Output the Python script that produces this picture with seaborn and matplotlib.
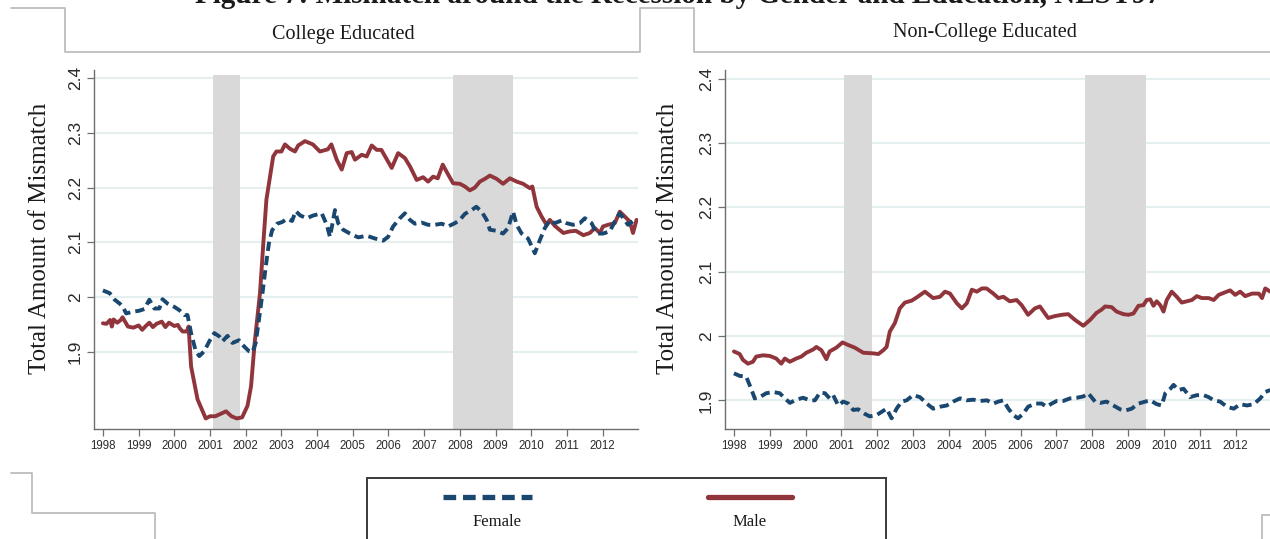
import numpy as np
import pandas as pd
import matplotlib
matplotlib.use("Agg")
import matplotlib.pyplot as plt
from matplotlib.lines import Line2D
from matplotlib.patches import Rectangle
import seaborn as sns

# ---------------- data ----------------
panel_titles = ["College Educated", "Non-College Educated"]
series_names = ["Female", "Male"]
year_ticks = list(range(1998, 2013))
ytick_vals = [1.9, 2.0, 2.1, 2.2, 2.3, 2.4]
ytick_labels = ["1.9", "2", "2.1", "2.2", "2.3", "2.4"]
recessions = [(2001.08, 2001.85), (2007.8, 2009.5)]

col_male_t = [1998.0, 1998.1, 1998.2, 1998.25, 1998.3, 1998.4, 1998.5, 1998.55, 1998.7, 1998.85,
              1999.0, 1999.1, 1999.2, 1999.3, 1999.4, 1999.5, 1999.65, 1999.75, 1999.85, 2000.0,
              2000.1, 2000.15, 2000.23, 2000.35, 2000.4, 2000.47, 2000.65, 2000.88, 2001.0, 2001.15,
              2001.35, 2001.45, 2001.6, 2001.75, 2001.9, 2002.05, 2002.15, 2002.25, 2002.4, 2002.5,
              2002.58, 2002.77, 2002.86, 2003.0, 2003.1, 2003.24, 2003.38, 2003.47, 2003.66, 2003.88,
              2004.08, 2004.3, 2004.4, 2004.55, 2004.69, 2004.83, 2004.97, 2005.06, 2005.25, 2005.39,
              2005.53, 2005.67, 2005.8, 2006.09, 2006.27, 2006.46, 2006.6, 2006.79, 2006.97, 2007.11,
              2007.25, 2007.38, 2007.52, 2007.67, 2007.81, 2008.0, 2008.14, 2008.28, 2008.42, 2008.56,
              2008.7, 2008.84, 2009.03, 2009.21, 2009.4, 2009.59, 2009.77, 2009.96, 2010.03, 2010.15,
              2010.29, 2010.43, 2010.52, 2010.66, 2010.9, 2011.08, 2011.25, 2011.46, 2011.64, 2011.78,
              2011.92, 2012.01, 2012.15, 2012.34, 2012.48, 2012.62, 2012.76, 2012.85, 2012.95]
col_male_v = [1.952, 1.951, 1.958, 1.946, 1.959, 1.953, 1.958, 1.963, 1.946, 1.944,
              1.948, 1.940, 1.947, 1.953, 1.945, 1.951, 1.955, 1.945, 1.953, 1.947,
              1.949, 1.943, 1.937, 1.937, 1.946, 1.873, 1.813, 1.778, 1.782, 1.782,
              1.788, 1.791, 1.782, 1.778, 1.780, 1.801, 1.837, 1.916, 2.007, 2.104,
              2.178, 2.257, 2.266, 2.266, 2.279, 2.271, 2.266, 2.277, 2.285, 2.279,
              2.266, 2.270, 2.279, 2.251, 2.233, 2.263, 2.265, 2.251, 2.260, 2.257,
              2.277, 2.269, 2.269, 2.236, 2.263, 2.254, 2.239, 2.214, 2.219, 2.211,
              2.220, 2.217, 2.242, 2.224, 2.208, 2.207, 2.202, 2.195, 2.200, 2.211,
              2.216, 2.222, 2.216, 2.207, 2.217, 2.211, 2.207, 2.199, 2.202, 2.165,
              2.147, 2.132, 2.141, 2.130, 2.117, 2.120, 2.121, 2.113, 2.117, 2.126,
              2.117, 2.129, 2.132, 2.135, 2.156, 2.147, 2.138, 2.117, 2.141]

col_fem_t = [1998.0, 1998.19, 1998.33, 1998.47, 1998.56, 1998.65, 1998.84, 1999.02, 1999.16, 1999.3,
             1999.44, 1999.58, 1999.67, 1999.81, 2000.0, 2000.14, 2000.28, 2000.37, 2000.47, 2000.6,
             2000.7, 2000.84, 2000.98, 2001.12, 2001.26, 2001.35, 2001.49, 2001.63, 2001.81, 2001.95,
             2002.09, 2002.19, 2002.28, 2002.37, 2002.47, 2002.56, 2002.65, 2002.74, 2002.88, 2003.02,
             2003.16, 2003.3, 2003.4, 2003.53, 2003.71, 2003.89, 2004.13, 2004.27, 2004.36, 2004.45,
             2004.5, 2004.59, 2004.73, 2004.92, 2005.15, 2005.39, 2005.62, 2005.85, 2005.99, 2006.13,
             2006.32, 2006.46, 2006.6, 2006.74, 2006.93, 2007.11, 2007.3, 2007.49, 2007.67, 2007.86,
             2008.0, 2008.14, 2008.33, 2008.46, 2008.61, 2008.75, 2008.84, 2009.03, 2009.21, 2009.35,
             2009.49, 2009.59, 2009.73, 2009.91, 2010.1, 2010.24, 2010.38, 2010.52, 2010.66, 2010.85,
             2010.99, 2011.17, 2011.36, 2011.5, 2011.69, 2011.83, 2012.01, 2012.2, 2012.34, 2012.48,
             2012.71, 2012.9]
col_fem_v = [2.012, 2.007, 1.995, 1.988, 1.982, 1.970, 1.973, 1.975, 1.978, 1.995,
             1.979, 1.979, 1.996, 1.988, 1.982, 1.976, 1.967, 1.967, 1.934, 1.901,
             1.892, 1.901, 1.919, 1.934, 1.928, 1.919, 1.929, 1.916, 1.921, 1.910,
             1.901, 1.899, 1.916, 1.958, 2.007, 2.055, 2.098, 2.122, 2.134, 2.137,
             2.143, 2.139, 2.157, 2.149, 2.144, 2.149, 2.153, 2.132, 2.110, 2.141,
             2.159, 2.135, 2.123, 2.116, 2.109, 2.112, 2.107, 2.103, 2.110, 2.129,
             2.144, 2.153, 2.141, 2.134, 2.136, 2.132, 2.132, 2.134, 2.129, 2.135,
             2.141, 2.152, 2.159, 2.165, 2.156, 2.141, 2.123, 2.121, 2.116, 2.126,
             2.156, 2.132, 2.116, 2.107, 2.080, 2.104, 2.126, 2.140, 2.135, 2.140,
             2.135, 2.132, 2.135, 2.144, 2.135, 2.116, 2.116, 2.120, 2.138, 2.153,
             2.132, 2.141]

non_male_t = [1998.0, 1998.16, 1998.25, 1998.39, 1998.53, 1998.62, 1998.81, 1999.0, 1999.18, 1999.32,
              1999.42, 1999.56, 1999.74, 1999.88, 2000.02, 2000.21, 2000.3, 2000.44, 2000.58, 2000.67,
              2000.86, 2001.03, 2001.19, 2001.37, 2001.61, 2001.89, 2002.03, 2002.17, 2002.26, 2002.35,
              2002.49, 2002.63, 2002.77, 2002.96, 2003.1, 2003.33, 2003.56, 2003.75, 2003.89, 2004.03,
              2004.22, 2004.36, 2004.5, 2004.64, 2004.78, 2004.92, 2005.05, 2005.24, 2005.38, 2005.52,
              2005.7, 2005.89, 2006.03, 2006.21, 2006.4, 2006.54, 2006.68, 2006.77, 2006.96, 2007.15,
              2007.33, 2007.52, 2007.75, 2007.94, 2008.12, 2008.26, 2008.36, 2008.54, 2008.68, 2008.87,
              2009.01, 2009.15, 2009.29, 2009.43, 2009.52, 2009.62, 2009.71, 2009.8, 2009.9, 2009.99,
              2010.08, 2010.22, 2010.36, 2010.5, 2010.64, 2010.78, 2010.92, 2011.06, 2011.25, 2011.39,
              2011.53, 2011.71, 2011.85, 2011.99, 2012.13, 2012.27, 2012.46, 2012.65, 2012.74, 2012.83,
              2012.97]
non_male_v = [1.976, 1.972, 1.963, 1.957, 1.960, 1.968, 1.970, 1.969, 1.965, 1.957,
              1.965, 1.960, 1.965, 1.968, 1.974, 1.979, 1.983, 1.978, 1.964, 1.976,
              1.982, 1.990, 1.986, 1.982, 1.974, 1.973, 1.972, 1.978, 1.983, 2.007,
              2.020, 2.043, 2.052, 2.055, 2.060, 2.069, 2.059, 2.061, 2.069, 2.066,
              2.051, 2.043, 2.051, 2.072, 2.069, 2.074, 2.074, 2.066, 2.059, 2.061,
              2.054, 2.056, 2.048, 2.033, 2.043, 2.046, 2.035, 2.028, 2.031, 2.033,
              2.034, 2.025, 2.016, 2.025, 2.036, 2.041, 2.046, 2.045, 2.038, 2.034,
              2.033, 2.035, 2.047, 2.048, 2.056, 2.057, 2.047, 2.054, 2.048, 2.038,
              2.056, 2.069, 2.061, 2.052, 2.054, 2.056, 2.062, 2.059, 2.059, 2.056,
              2.064, 2.068, 2.071, 2.064, 2.069, 2.062, 2.066, 2.066, 2.059, 2.074,
              2.069]

non_fem_t = [1998.0, 1998.16, 1998.34, 1998.48, 1998.58, 1998.72, 1998.9, 1999.09, 1999.28, 1999.42,
             1999.56, 1999.74, 1999.93, 2000.12, 2000.26, 2000.4, 2000.54, 2000.67, 2000.77, 2000.91,
             2001.05, 2001.19, 2001.33, 2001.47, 2001.65, 2001.79, 2001.98, 2002.12, 2002.26, 2002.4,
             2002.54, 2002.68, 2002.82, 2003.0, 2003.19, 2003.38, 2003.56, 2003.75, 2003.94, 2004.12,
             2004.31, 2004.5, 2004.68, 2004.87, 2005.06, 2005.24, 2005.38, 2005.52, 2005.66, 2005.8,
             2005.93, 2006.07, 2006.21, 2006.4, 2006.59, 2006.73, 2006.87, 2007.01, 2007.19, 2007.38,
             2007.57, 2007.75, 2007.89, 2008.08, 2008.22, 2008.4, 2008.59, 2008.78, 2008.92, 2009.1,
             2009.29, 2009.48, 2009.62, 2009.8, 2009.94, 2010.04, 2010.18, 2010.27, 2010.41, 2010.55,
             2010.73, 2010.92, 2011.11, 2011.25, 2011.39, 2011.57, 2011.76, 2011.95, 2012.13, 2012.32,
             2012.51, 2012.69, 2012.83, 2012.97]
non_fem_v = [1.942, 1.938, 1.937, 1.918, 1.903, 1.905, 1.911, 1.913, 1.911, 1.903,
             1.896, 1.901, 1.904, 1.900, 1.900, 1.912, 1.911, 1.903, 1.908, 1.892,
             1.898, 1.895, 1.885, 1.886, 1.879, 1.875, 1.877, 1.882, 1.887, 1.872,
             1.887, 1.898, 1.900, 1.908, 1.905, 1.895, 1.887, 1.890, 1.892, 1.898,
             1.903, 1.900, 1.901, 1.899, 1.900, 1.895, 1.898, 1.900, 1.887, 1.877,
             1.872, 1.879, 1.890, 1.895, 1.895, 1.890, 1.895, 1.899, 1.899, 1.903,
             1.904, 1.906, 1.911, 1.898, 1.896, 1.898, 1.892, 1.886, 1.884, 1.887,
             1.895, 1.898, 1.900, 1.894, 1.892, 1.911, 1.918, 1.924, 1.916, 1.918,
             1.905, 1.908, 1.908, 1.905, 1.900, 1.898, 1.890, 1.887, 1.894, 1.892,
             1.894, 1.903, 1.913, 1.916]

# ---------------- style ----------------
W, H = 1270, 539
sns.set_theme(style="white")
plt.rcParams["font.family"] = ["Liberation Sans", "DejaVu Sans"]
SERIF = ["Liberation Serif", "DejaVu Serif"]

RED = "#90353b"
NAVY = "#1a476f"
SHADE = "#d9d9d9"
GRID = "#e6eff0"
FRAME = "#bdbdbd"

fig = plt.figure(figsize=(W / 100, H / 100), dpi=100)
fig.patch.set_facecolor("white")


def fx(x):
    return x / W


def fy(y):
    return 1 - y / H


panels = [
    dict(title=panel_titles[0], x0=94, x1=638, ylim=(1.7587, 2.415),
         fem=(col_fem_t, col_fem_v), male=(col_male_t, col_male_v),
         title_x=343, title_y=35, label_x=51),
    dict(title=panel_titles[1], x0=725, x1=1271, ylim=(1.8554, 2.4137),
         fem=(non_fem_t, non_fem_v), male=(non_male_t, non_male_v),
         title_x=985, title_y=33, label_x=679),
]

top_px, bot_px = 70, 429
for p in panels:
    ax = fig.add_axes([fx(p["x0"]), fy(bot_px), (p["x1"] - p["x0"]) / W, (bot_px - top_px) / H])
    ax.set_facecolor("white")
    ax.set_xlim(1997.75, 2012.99)
    ax.set_ylim(*p["ylim"])
    for yv in ytick_vals:
        ax.axhline(yv, color=GRID, lw=1.6, zorder=0)
    for a, b in recessions:
        ax.fill_between([a, b], p["ylim"][0], 2.406, color=SHADE, lw=0, zorder=1)
    df_f = pd.DataFrame({"t": p["fem"][0], "v": p["fem"][1]})
    df_m = pd.DataFrame({"t": p["male"][0], "v": p["male"][1]})
    sns.lineplot(data=df_m, x="t", y="v", ax=ax, color=RED, lw=2.8, zorder=3,
                 solid_joinstyle="round", solid_capstyle="round")
    sns.lineplot(data=df_f, x="t", y="v", ax=ax, color=NAVY, lw=2.8, zorder=4,
                 dashes=False, linestyle=(0, (2.4, 1.3)))
    for s in ["top", "right"]:
        ax.spines[s].set_visible(False)
    for s in ["left", "bottom"]:
        ax.spines[s].set_color("#6e6e6e")
        ax.spines[s].set_linewidth(1.0)
    ax.set_xticks(year_ticks)
    ax.set_xticklabels([str(y) for y in year_ticks], fontsize=8.3, color="#2a2a2a")
    ax.set_yticks(ytick_vals)
    ax.set_yticklabels(ytick_labels, fontsize=12.5, color="#2a2a2a", rotation=90, va="center")
    ax.tick_params(axis="both", direction="out", length=5, width=0.9, color="#6e6e6e",
                   left=True, bottom=True)
    ax.tick_params(axis="y", pad=3)
    ax.tick_params(axis="x", pad=3)
    ax.set_xlabel("")
    ax.set_ylabel("Total Amount of Mismatch", family=SERIF, fontsize=18, color="#1a1a1a")
    ax.yaxis.set_label_coords((p["label_x"] - p["x0"]) / (p["x1"] - p["x0"]), 0.53)
    fig.text(fx(p["title_x"]), fy(p["title_y"]), p["title"], family=SERIF, fontsize=14.5,
             ha="center", va="center", color="#1a1a1a")

# partially visible figure title at the top edge (cropped in the reference as well)
fig.text(fx(678), fy(3), "Figure 7: Mismatch around the Recession by Gender and Education, NLSY97",
         family=SERIF, fontsize=21, fontweight="bold", ha="center", va="baseline", color="#1a1a1a")

# header strip frames
frame_pts = [(11, 8), (65, 8), (65, 52), (640, 52), (640, 8), (694, 8), (694, 52), (1270, 52)]
fig.add_artist(Line2D([fx(a) for a, b in frame_pts], [fy(b) for a, b in frame_pts],
                      transform=fig.transFigure, color=FRAME, lw=1.3))
bl_pts = [(11, 473), (32, 473), (32, 513), (155, 513), (155, 540)]
fig.add_artist(Line2D([fx(a) for a, b in bl_pts], [fy(b) for a, b in bl_pts],
                      transform=fig.transFigure, color=FRAME, lw=1.3))
br_pts = [(1270, 515), (1262, 515), (1262, 540)]
fig.add_artist(Line2D([fx(a) for a, b in br_pts], [fy(b) for a, b in br_pts],
                      transform=fig.transFigure, color=FRAME, lw=1.3))

# legend box
fig.add_artist(Rectangle((fx(367), fy(545)), (886 - 367) / W, (545 - 478) / H,
                         transform=fig.transFigure, fill=False, edgecolor="#3a3a3a", lw=1.4))
fig.add_artist(Line2D([fx(443), fx(532)], [fy(497), fy(497)], transform=fig.transFigure,
                      color=NAVY, lw=3.8, linestyle=(0, (2.4, 1.3))))
fig.add_artist(Line2D([fx(708), fx(792)], [fy(497), fy(497)], transform=fig.transFigure,
                      color=RED, lw=3.8))
fig.text(fx(497), fy(522), series_names[0], family=SERIF, fontsize=12, ha="center", va="center",
         color="#1a1a1a")
fig.text(fx(750), fy(522), series_names[1], family=SERIF, fontsize=12, ha="center", va="center",
         color="#1a1a1a")

fig.savefig("out.png", dpi=100, facecolor="white")
